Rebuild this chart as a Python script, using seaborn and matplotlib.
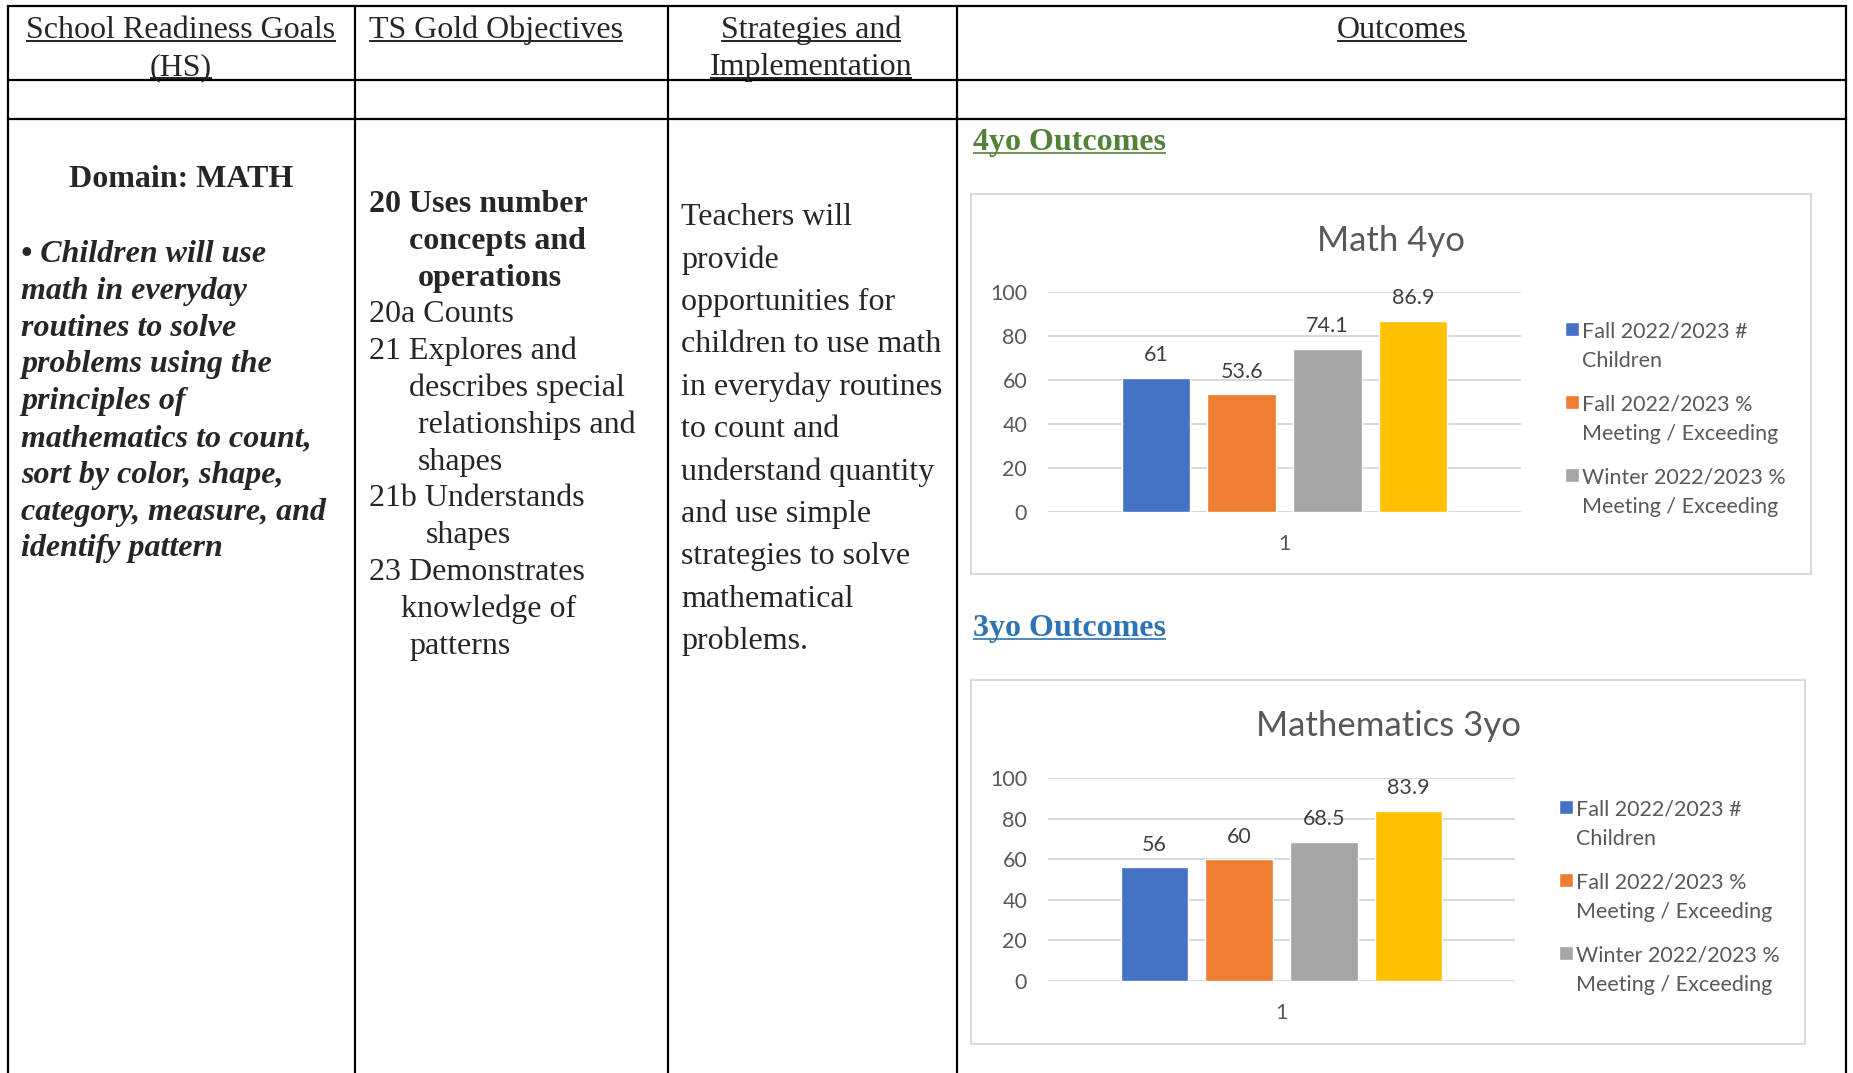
import matplotlib
matplotlib.use("Agg")
import pandas as pd
import matplotlib.pyplot as plt
from matplotlib.patches import Rectangle
import seaborn as sns

W, H = 1853, 1073
SERIF = ["Liberation Serif", "DejaVu Serif"]
SANS = ["Lato", "DejaVu Sans"]

# chart data
category = ["1"]
series = ["Fall 2022/2023 # Children",
          "Fall 2022/2023 % Meeting / Exceeding",
          "Winter 2022/2023 % Meeting / Exceeding",
          "Series 4"]
legend_labels = ["Fall 2022/2023 #\nChildren",
                 "Fall 2022/2023 %\nMeeting / Exceeding",
                 "Winter 2022/2023 %\nMeeting / Exceeding"]
bar_colors = ["#4472C4", "#ED7D31", "#A5A5A5", "#FFC000"]
math_4yo = [61, 53.6, 74.1, 86.9]
math_3yo = [56, 60, 68.5, 83.9]
y_ticks = [0, 20, 40, 60, 80, 100]

# table text
goal_heading = "Domain: MATH"
goal_lines = ["\u2022 Children will use", "math in everyday", "routines to solve",
              "problems using the", "principles of", "mathematics to count,",
              "sort by color, shape,", "category, measure, and", "identify pattern"]
objective_lines = ["20 Uses number", "concepts and", "operations", "20a Counts",
                   "21 Explores and", "describes special", "relationships and",
                   "shapes", "21b Understands", "shapes", "23 Demonstrates",
                   "knowledge of", "patterns"]
strategy_lines = ["Teachers will", "provide", "opportunities for",
                  "children to use math", "in everyday routines", "to count and",
                  "understand quantity", "and use simple", "strategies to solve",
                  "mathematical", "problems."]

sns.set_style("white")
plt.rcParams["font.family"] = SANS

fig = plt.figure(figsize=(W / 100, H / 100), dpi=100)
bg = fig.add_axes([0, 0, 1, 1])
bg.set_xlim(0, W)
bg.set_ylim(H, 0)
bg.axis("off")
renderer = fig.canvas.get_renderer()


def underline(t, color="black"):
    bb = t.get_window_extent(renderer)
    inv = bg.transData.inverted()
    (xa, ya), (xb, yb) = inv.transform([[bb.x0, bb.y0], [bb.x1, bb.y1]])
    yl = ya - 4
    bg.plot([xa, xb], [yl, yl], color=color, lw=1.2, solid_capstyle="butt")


# table grid
for y in (6, 80, 119):
    bg.plot([8, 1846], [y, y], color="black", lw=1.6, solid_capstyle="projecting")
for x in (8, 355, 668, 957, 1846):
    bg.plot([x, x], [6, H], color="black", lw=1.6)

FS = 23
DY = 3.5  # small downward nudge for serif text
# header row
for txt, x, y, ha in [("School Readiness Goals", 181, 27, "center"), ("(HS)", 181, 64, "center"),
                      ("TS Gold Objectives", 369, 27, "left"),
                      ("Strategies and", 811, 27, "center"), ("Implementation", 811, 64, "center"),
                      ("Outcomes", 1402, 27, "center")]:
    t = bg.text(x, y + DY, txt, ha=ha, va="center", fontsize=FS, family=SERIF)
    underline(t)

# goals column
bg.text(181, 176 + DY, goal_heading, ha="center", va="center", fontsize=FS,
        family=SERIF, weight="bold")
for i, line in enumerate(goal_lines):
    bg.text(21, 251 + DY + i * 36.8, line, ha="left", va="center", fontsize=FS,
            family=SERIF, weight="bold", style="italic")

# objectives column
obj_x = [369, 409, 418, 369, 369, 409, 418, 418, 369, 426, 369, 401, 409]
for i, line in enumerate(objective_lines):
    bg.text(obj_x[i], 201 + DY + i * 36.8, line, ha="left", va="center", fontsize=FS,
            family=SERIF, weight="bold" if i < 3 else "normal")

# strategies column
for i, line in enumerate(strategy_lines):
    bg.text(681, 214 + DY + i * 42.4, line, ha="left", va="center", fontsize=FS,
            family=SERIF)

# section titles
t = bg.text(973, 139 + DY, "4yo Outcomes", ha="left", va="center", fontsize=FS,
            family=SERIF, weight="bold", color="#538135")
underline(t, "#538135")
t = bg.text(973, 625 + DY, "3yo Outcomes", ha="left", va="center", fontsize=FS,
            family=SERIF, weight="bold", color="#2E74B5")
underline(t, "#2E74B5")


def draw_chart(frame, plot_box, title, title_y, values, legend_xy):
    x0, y0, x1, y1 = frame
    bg.add_patch(Rectangle((x0, y0), x1 - x0, y1 - y0, facecolor="white",
                           edgecolor="#D9D9D9", lw=1.5))
    bg.text((x0 + x1) / 2, title_y, title, ha="center", va="center",
            fontsize=25, color="#595959", family=SANS)
    px0, ptop, px1, pbot = plot_box
    ax = fig.add_axes([px0 / W, 1 - pbot / H, (px1 - px0) / W, (pbot - ptop) / H])
    df = pd.DataFrame({"x": category * len(series), "series": series, "value": values})
    sns.barplot(data=df, x="x", y="value", hue="series", hue_order=series,
                palette=bar_colors, saturation=1, width=0.725, gap=0.2,
                errorbar=None, ax=ax)
    old = ax.get_legend()
    handles = old.legend_handles
    old.remove()
    for c in ax.containers:
        ax.bar_label(c, fmt="{:g}", padding=9, fontsize=15.5, color="#404040")
    ax.set_ylim(0, 100)
    ax.set_yticks(y_ticks)
    ax.set_facecolor("none")
    for s in ax.spines.values():
        s.set_visible(False)
    ax.yaxis.grid(True, color="#D9D9D9", lw=1.5)
    ax.set_axisbelow(True)
    ax.set_xlabel("")
    ax.set_ylabel("")
    ax.tick_params(axis="y", length=0, labelsize=15.5, labelcolor="#595959", pad=15)
    ax.tick_params(axis="x", length=0, labelsize=15.5, labelcolor="#595959", pad=16)
    lx, ly = legend_xy
    leg = ax.legend(handles[:3], legend_labels, loc="upper left",
                    bbox_to_anchor=(lx / W, 1 - ly / H), bbox_transform=fig.transFigure,
                    frameon=False, borderpad=0, borderaxespad=0, handlelength=0.65,
                    handleheight=0.65, handletextpad=0.15, labelspacing=1.12,
                    fontsize=15.5, labelcolor="#595959")
    for t in leg.get_texts():
        t.set_linespacing(1.55)
    for col in leg._legend_handle_box.get_children():
        for item in col.get_children():
            item.align = "top"
    return ax


draw_chart((971, 194, 1811, 574), (1048, 292, 1521, 512), "Math 4yo", 241,
           math_4yo, (1565, 322))
draw_chart((971, 680, 1805, 1044), (1048, 778, 1515, 981), "Mathematics 3yo", 726,
           math_3yo, (1559, 800))

fig.savefig("out.png", dpi=100)
